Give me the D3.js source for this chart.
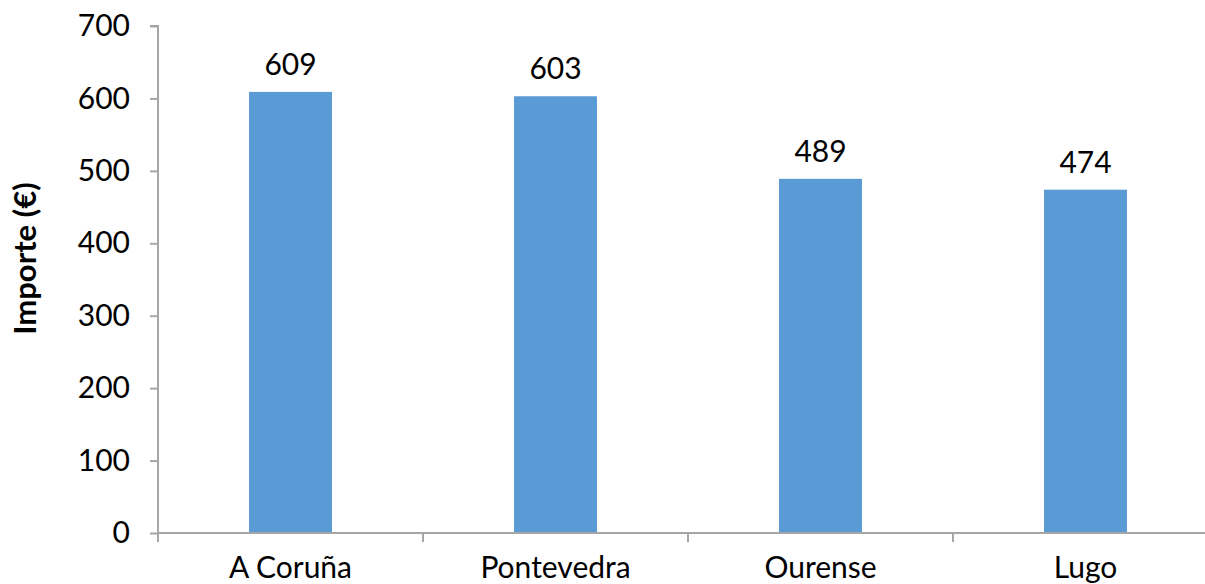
<!DOCTYPE html>
<html><head><meta charset="utf-8">
<script src="https://cdn.jsdelivr.net/npm/d3@7"></script>
<style>body{margin:0;background:#fff}svg{display:block}</style>
</head><body>
<svg id="c" width="1205" height="584"></svg>
<script>
const categories = ["A Coruña", "Pontevedra", "Ourense", "Lugo"];
const values = [609, 603, 489, 474];
const yTicks = [0, 100, 200, 300, 400, 500, 600, 700];
const yLabel = "Importe (€)";

(function () {
const svg = d3.select("#c");
const font = "Lato, 'Open Sans', sans-serif";
const fs = 30;
const mLeft = 158, mRight = 1218, mTop = 26, mBottom = 533;
const x = d3.scaleBand().domain(categories).range([mLeft, mRight]).padding(0);
const y = d3.scaleLinear().domain([0, 700]).range([mBottom, mTop]);
const barW = x.bandwidth() * 0.313;
const axisColor = "#a6a6a6";

svg.selectAll("rect.bar").data(values).join("rect")
  .attr("x", (d, i) => x(categories[i]) + x.bandwidth() / 2 - barW / 2)
  .attr("y", d => y(d))
  .attr("width", barW)
  .attr("height", d => y(0) - y(d))
  .attr("fill", "#5b9bd5");

const ya = svg.append("g").attr("transform", `translate(${mLeft},0)`)
  .call(d3.axisLeft(y).tickValues(yTicks).tickSize(8).tickPadding(20));
ya.select(".domain").attr("stroke", axisColor).attr("stroke-width", 2).attr("d", `M-8,${mTop}H0V${mBottom}`);
ya.selectAll(".tick line").attr("stroke", axisColor).attr("stroke-width", 2);
ya.selectAll(".tick text").attr("font-family", font).attr("font-size", fs).attr("fill", "#000");

const xa = svg.append("g").attr("transform", `translate(0,${mBottom})`);
xa.append("line").attr("x1", mLeft).attr("x2", mRight).attr("y1", 0).attr("y2", 0)
  .attr("stroke", axisColor).attr("stroke-width", 2);
const bounds = categories.map(c => x(c)).concat([mRight]);
xa.selectAll("line.t").data(bounds).join("line").attr("class", "t")
  .attr("x1", d => d).attr("x2", d => d).attr("y1", 0).attr("y2", 9)
  .attr("stroke", axisColor).attr("stroke-width", 2);
xa.selectAll("text").data(categories).join("text")
  .attr("x", d => x(d) + x.bandwidth() / 2).attr("y", 45)
  .attr("text-anchor", "middle").attr("font-family", font).attr("font-size", fs).attr("fill", "#000")
  .text(d => d);

svg.selectAll("text.lbl").data(values).join("text").attr("class", "lbl")
  .attr("x", (d, i) => x(categories[i]) + x.bandwidth() / 2)
  .attr("y", d => y(d) - 17)
  .attr("text-anchor", "middle").attr("font-family", font).attr("font-size", fs).attr("fill", "#000")
  .text(d => d);

svg.append("text").attr("transform", `translate(36,${(mTop + mBottom) / 2 - 21}) rotate(-90)`)
  .attr("text-anchor", "middle").attr("font-family", font).attr("font-size", 31)
  .attr("font-weight", "bold").attr("fill", "#000").text(yLabel);
})();
</script>
</body></html>
